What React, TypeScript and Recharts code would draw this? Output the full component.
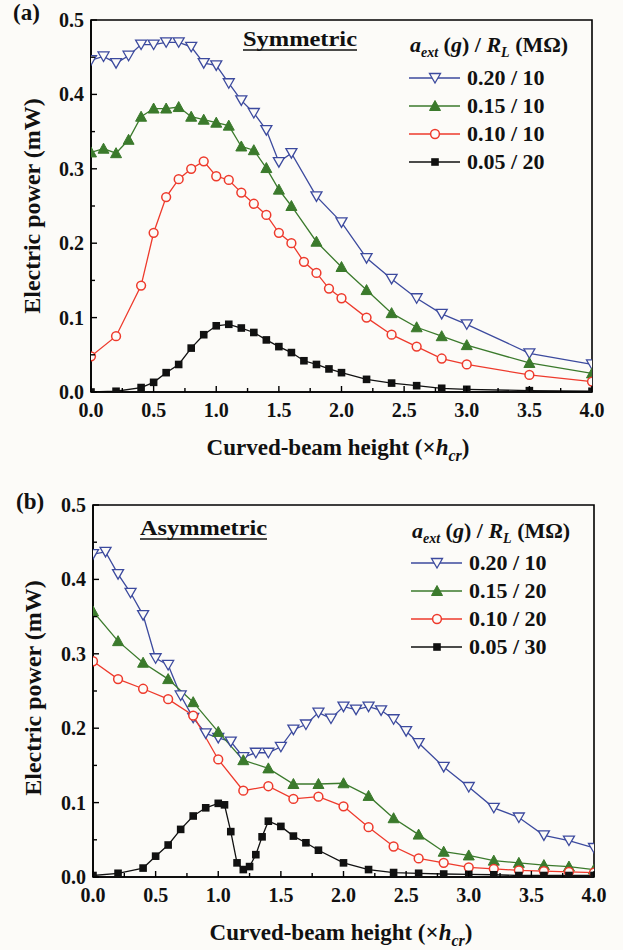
import React from 'react';
import { LineChart, Line, XAxis, YAxis, ReferenceArea } from 'recharts';

const BG = '#fcfbf8';
const BLUE = '#3c4a9e';
const GREEN = '#3b7a2c';
const RED = '#ee3a2c';
const BLACK = '#111111';
const FONT = '"Liberation Serif", "Times New Roman", serif';

// ---------- Panel (a): Symmetric ----------
const symXFine = [0, 0.1, 0.2, 0.3, 0.4, 0.5, 0.6, 0.7, 0.8, 0.9, 1.0, 1.1, 1.2, 1.3, 1.4, 1.5, 1.6, 1.8, 2.0, 2.2, 2.4, 2.6, 2.8, 3.0, 3.5, 4.0];
const symBlue = [0.446, 0.451, 0.442, 0.452, 0.467, 0.467, 0.470, 0.470, 0.464, 0.442, 0.439, 0.415, 0.392, 0.375, 0.352, 0.309, 0.321, 0.263, 0.228, 0.180, 0.152, 0.126, 0.105, 0.091, 0.052, 0.037];
const symGreen = [0.322, 0.327, 0.321, 0.339, 0.370, 0.381, 0.381, 0.383, 0.370, 0.366, 0.362, 0.358, 0.330, 0.325, 0.301, 0.272, 0.250, 0.202, 0.168, 0.137, 0.106, 0.087, 0.075, 0.063, 0.039, 0.025];
const symXCoarse = [0, 0.2, 0.4, 0.5, 0.6, 0.7, 0.8, 0.9, 1.0, 1.1, 1.2, 1.3, 1.4, 1.5, 1.6, 1.7, 1.8, 1.9, 2.0, 2.2, 2.4, 2.6, 2.8, 3.0, 3.5, 4.0];
const symRed = [0.048, 0.075, 0.143, 0.214, 0.262, 0.286, 0.300, 0.310, 0.290, 0.285, 0.268, 0.253, 0.238, 0.214, 0.200, 0.175, 0.160, 0.139, 0.126, 0.100, 0.077, 0.061, 0.045, 0.037, 0.023, 0.014];
const symBlack = [0.000, 0.001, 0.006, 0.013, 0.026, 0.037, 0.059, 0.077, 0.089, 0.091, 0.086, 0.080, 0.070, 0.061, 0.053, 0.042, 0.037, 0.031, 0.026, 0.017, 0.012, 0.0085, 0.005, 0.0036, 0.0018, 0.001];
const symLegend = ['0.20 / 10', '0.15 / 10', '0.10 / 10', '0.05 / 20'];

// ---------- Panel (b): Asymmetric ----------
const asymXBlue = [0, 0.1, 0.2, 0.3, 0.4, 0.5, 0.6, 0.7, 0.8, 0.9, 1.0, 1.1, 1.2, 1.3, 1.4, 1.5, 1.6, 1.7, 1.8, 1.9, 2.0, 2.1, 2.2, 2.3, 2.4, 2.5, 2.6, 2.8, 3.0, 3.2, 3.4, 3.6, 3.8, 4.0];
const asymBlue = [0.434, 0.437, 0.407, 0.382, 0.352, 0.294, 0.285, 0.244, 0.214, 0.193, 0.187, 0.182, 0.161, 0.167, 0.167, 0.175, 0.198, 0.205, 0.221, 0.213, 0.229, 0.225, 0.229, 0.224, 0.212, 0.196, 0.180, 0.148, 0.121, 0.093, 0.080, 0.056, 0.049, 0.039];
const asymX02 = [0, 0.2, 0.4, 0.6, 0.8, 1.0, 1.2, 1.4, 1.6, 1.8, 2.0, 2.2, 2.4, 2.6, 2.8, 3.0, 3.2, 3.4, 3.6, 3.8, 4.0];
const asymGreen = [0.357, 0.317, 0.288, 0.266, 0.235, 0.195, 0.157, 0.146, 0.125, 0.125, 0.126, 0.109, 0.079, 0.057, 0.034, 0.029, 0.022, 0.019, 0.016, 0.014, 0.010];
const asymRed = [0.290, 0.266, 0.253, 0.239, 0.217, 0.158, 0.116, 0.122, 0.105, 0.108, 0.095, 0.067, 0.041, 0.025, 0.019, 0.013, 0.011, 0.009, 0.008, 0.007, 0.006];
const asymXBlack = [0, 0.2, 0.4, 0.5, 0.6, 0.7, 0.8, 0.9, 1.0, 1.05, 1.1, 1.15, 1.2, 1.25, 1.3, 1.35, 1.4, 1.5, 1.6, 1.7, 1.8, 2.0, 2.2, 2.4, 2.6, 2.8, 3.0, 3.2, 3.4, 3.6, 3.8, 4.0];
const asymBlack = [0.002, 0.005, 0.012, 0.028, 0.043, 0.064, 0.082, 0.093, 0.099, 0.097, 0.061, 0.019, 0.010, 0.014, 0.030, 0.054, 0.075, 0.068, 0.055, 0.046, 0.036, 0.019, 0.010, 0.006, 0.005, 0.004, 0.0035, 0.003, 0.002, 0.002, 0.002, 0.002];
const asymLegend = ['0.20 / 10', '0.15 / 20', '0.10 / 20', '0.05 / 30'];

const xTicks = [0, 0.25, 0.5, 0.75, 1, 1.25, 1.5, 1.75, 2, 2.25, 2.5, 2.75, 3, 3.25, 3.5, 3.75, 4];
const yTicks = [0, 0.05, 0.1, 0.15, 0.2, 0.25, 0.3, 0.35, 0.4, 0.45, 0.5];

type Pt = { x: number; y: number };
const zip = (xs: number[], ys: number[]): Pt[] => xs.map((x, i) => ({ x, y: ys[i] }));
const isMajor = (v: number, step: number) => Math.abs(v / step - Math.round(v / step)) < 1e-6;

// ---------- markers ----------
const drawDown = (cx: number, cy: number, key?: any) => (
  <polygon key={key} points={`${cx - 5.5},${cy - 4.5} ${cx + 5.5},${cy - 4.5} ${cx},${cy + 5}`} fill={BG} stroke={BLUE} strokeWidth={1.3} />
);
const drawUp = (cx: number, cy: number, key?: any) => (
  <polygon key={key} points={`${cx - 5.5},${cy + 4.5} ${cx + 5.5},${cy + 4.5} ${cx},${cy - 5.5}`} fill={GREEN} stroke={GREEN} strokeWidth={1} />
);
const drawCircle = (cx: number, cy: number, key?: any) => (
  <circle key={key} cx={cx} cy={cy} r={4.4} fill={BG} stroke={RED} strokeWidth={1.5} />
);
const drawSquare = (cx: number, cy: number, key?: any) => (
  <rect key={key} x={cx - 3.8} y={cy - 3.8} width={7.6} height={7.6} fill={BLACK} />
);
const dotOf = (fn: (cx: number, cy: number, key?: any) => React.ReactElement) => (p: any) => {
  const { cx, cy, index } = p;
  if (cx == null || cy == null) return <g key={`e${index}`} />;
  return fn(cx, cy, `d${index}`);
};

const YTick = (props: any) => {
  const { x, y, payload } = props;
  const v = payload.value as number;
  const major = isMajor(v, 0.1);
  return (
    <g>
      <line x1={x} x2={x + (major ? 6 : 4)} y1={y} y2={y} stroke="#000" strokeWidth={1.4} />
      {major && (
        <text x={x - 7} y={y + 7} textAnchor="end" fontFamily={FONT} fontWeight="bold" fontSize={20} fill="#111">
          {v.toFixed(1)}
        </text>
      )}
    </g>
  );
};

const XTick = (props: any) => {
  const { x, y, payload } = props;
  const v = payload.value as number;
  const major = isMajor(v, 0.5);
  return (
    <g>
      <line x1={x} x2={x} y1={y} y2={y - (major ? 6 : 4)} stroke="#000" strokeWidth={1.4} />
      {major && (
        <text x={x} y={y + 25} textAnchor="middle" fontFamily={FONT} fontWeight="bold" fontSize={20} fill="#111">
          {v.toFixed(1)}
        </text>
      )}
    </g>
  );
};

type Series = { data: Pt[]; color: string; draw: (cx: number, cy: number, key?: any) => React.ReactElement };

function Panel(props: { top: number; height: number; margin: any; yWidth: number; series: Series[] }) {
  const { top, height, margin, yWidth, series } = props;
  return (
    <div style={{ position: 'absolute', left: 0, top }}>
      <LineChart width={623} height={height} margin={margin}>
        <XAxis
          type="number"
          dataKey="x"
          domain={[0, 4]}
          ticks={xTicks}
          interval={0}
          tickSize={0}
          tickMargin={0}
          tickLine={false}
          tick={<XTick />}
          axisLine={{ stroke: '#000', strokeWidth: 1.6 }}
          height={60}
          allowDataOverflow
        />
        <YAxis
          type="number"
          domain={[0, 0.5]}
          ticks={yTicks}
          interval={0}
          tickSize={0}
          tickMargin={0}
          tickLine={false}
          tick={<YTick />}
          axisLine={{ stroke: '#000', strokeWidth: 1.6 }}
          width={yWidth}
          allowDataOverflow
        />
        <ReferenceArea x1={0} x2={4} y1={0} y2={0.5} fill="none" stroke="#000" strokeWidth={1.6} ifOverflow="visible" />
        {series.map((s, i) => (
          <Line
            key={i}
            data={s.data}
            dataKey="y"
            type="linear"
            stroke={s.color}
            strokeWidth={1.3}
            dot={dotOf(s.draw)}
            activeDot={false}
            isAnimationActive={false}
          />
        ))}
      </LineChart>
    </div>
  );
}

const legendDraws = [drawDown, drawUp, drawCircle, drawSquare];
const legendColors = [BLUE, GREEN, RED, BLACK];

function LegendBlock(props: { x: number; titleY: number; rowY: number[]; labels: string[] }) {
  const { x, titleY, rowY, labels } = props;
  return (
    <g fontFamily={FONT} fontWeight="bold" fill="#111">
      <text x={x} y={titleY} fontSize={22}>
        <tspan fontStyle="italic">a</tspan>
        <tspan fontStyle="italic" fontSize={14} dy={5}>ext</tspan>
        <tspan dy={-5}> (</tspan>
        <tspan fontStyle="italic">g</tspan>
        <tspan>) / </tspan>
        <tspan fontStyle="italic">R</tspan>
        <tspan fontStyle="italic" fontSize={14} dy={5}>L</tspan>
        <tspan dy={-5}> (MΩ)</tspan>
      </text>
      {labels.map((lab, i) => (
        <g key={i}>
          <line x1={x - 1} x2={x + 50} y1={rowY[i]} y2={rowY[i]} stroke={legendColors[i]} strokeWidth={1.4} />
          {legendDraws[i](x + 25, rowY[i])}
          <text x={x + 57} y={rowY[i] + 7} fontSize={22}>{lab}</text>
        </g>
      ))}
    </g>
  );
}

function XLabel(props: { cx: number; y: number }) {
  return (
    <text x={props.cx} y={props.y} textAnchor="middle" fontFamily={FONT} fontWeight="bold" fontSize={23} fill="#111">
      Curved-beam height (×<tspan fontStyle="italic">h</tspan>
      <tspan fontStyle="italic" fontSize={16} dy={6}>cr</tspan>
      <tspan dy={-6}>)</tspan>
    </text>
  );
}

function YLabel(props: { x: number; cy: number }) {
  return (
    <text
      x={props.x}
      y={props.cy}
      transform={`rotate(-90 ${props.x} ${props.cy})`}
      textAnchor="middle"
      fontFamily={FONT}
      fontWeight="bold"
      fontSize={24}
      fill="#111"
    >
      Electric power (mW)
    </text>
  );
}

export default function App() {
  const seriesA: Series[] = [
    { data: zip(symXFine, symBlue), color: BLUE, draw: drawDown },
    { data: zip(symXFine, symGreen), color: GREEN, draw: drawUp },
    { data: zip(symXCoarse, symRed), color: RED, draw: drawCircle },
    { data: zip(symXCoarse, symBlack), color: BLACK, draw: drawSquare },
  ];
  const seriesB: Series[] = [
    { data: zip(asymXBlue, asymBlue), color: BLUE, draw: drawDown },
    { data: zip(asymX02, asymGreen), color: GREEN, draw: drawUp },
    { data: zip(asymX02, asymRed), color: RED, draw: drawCircle },
    { data: zip(asymXBlack, asymBlack), color: BLACK, draw: drawSquare },
  ];
  return (
    <div style={{ position: 'absolute', left: 0, top: 0, width: 623, height: 950, background: BG, overflow: 'hidden' }}>
      <Panel top={0} height={470} margin={{ top: 20, right: 31, bottom: 18, left: 0 }} yWidth={91} series={seriesA} />
      <Panel top={460} height={490} margin={{ top: 45, right: 29, bottom: 13, left: 0 }} yWidth={93} series={seriesB} />
      <svg width={623} height={950} style={{ position: 'absolute', left: 0, top: 0, pointerEvents: 'none' }}>
        <text x={13} y={20} fontFamily={FONT} fontWeight="bold" fontSize={23} fill="#111">(a)</text>
        <text x={16} y={509} fontFamily={FONT} fontWeight="bold" fontSize={23} fill="#111">(b)</text>
        <text x={243} y={46} fontFamily={FONT} fontWeight="bold" fontSize={22} fill="#111" textLength={114} lengthAdjust="spacingAndGlyphs">Symmetric</text>
        <line x1={243} x2={357} y1={50} y2={50} stroke="#111" strokeWidth={1.6} />
        <text x={140} y={535} fontFamily={FONT} fontWeight="bold" fontSize={22} fill="#111" textLength={127} lengthAdjust="spacingAndGlyphs">Asymmetric</text>
        <line x1={140} x2={267} y1={539} y2={539} stroke="#111" strokeWidth={1.6} />
        <LegendBlock x={410} titleY={52} rowY={[78, 106, 134, 162]} labels={symLegend} />
        <LegendBlock x={412} titleY={538} rowY={[563, 591, 619, 647]} labels={asymLegend} />
        <YLabel x={40} cy={206} />
        <YLabel x={41} cy={688} />
        <XLabel cx={338} y={455} />
        <XLabel cx={341} y={940} />
      </svg>
    </div>
  );
}
